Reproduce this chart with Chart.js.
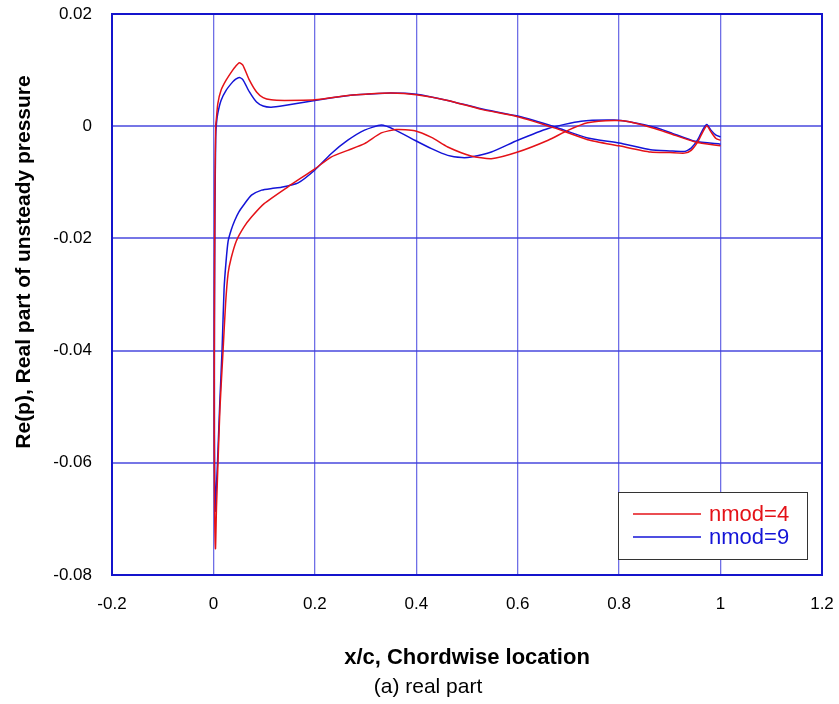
<!DOCTYPE html>
<html>
<head>
<meta charset="utf-8">
<script src="https://cdn.jsdelivr.net/npm/chart.js@4.4.1/dist/chart.umd.min.js"></script>
<style>
  html, body { margin: 0; padding: 0; background: #fff; }
  #wrap { width: 839px; height: 704px; }
</style>
</head>
<body>
<div id="wrap"><canvas id="myChart" width="839" height="704"></canvas></div>
<script>
// series labels
const seriesNames = ['nmod=4', 'nmod=9'];

// nmod=4 : upper surface from trailing edge to leading edge, then lower surface back
const nmod4X = [1.0, 0.991, 0.981, 0.973, 0.965, 0.955, 0.942, 0.929, 0.9, 0.862, 0.8, 0.738, 0.672, 0.6, 0.528,
  0.462, 0.4, 0.35, 0.3, 0.27, 0.2, 0.14, 0.114, 0.098, 0.085, 0.071, 0.058, 0.051, 0.044, 0.038, 0.025, 0.015,
  0.0086, 0.006, 0.0045, 0.003, 0.002, 0.0015, 0.002, 0.004,
  0.006, 0.009, 0.013, 0.019, 0.024, 0.029, 0.035, 0.045, 0.06, 0.075, 0.1, 0.147, 0.2, 0.232, 0.265, 0.298,
  0.331, 0.36, 0.397, 0.43, 0.462, 0.508, 0.548, 0.6, 0.66, 0.7, 0.738, 0.79, 0.82, 0.87, 0.9, 0.95, 1.0];
const nmod4Y = [-0.0025, -0.0022, -0.001, 0.0001, -0.001, -0.0028, -0.0043, -0.0048, -0.0047, -0.0046, -0.0035,
  -0.0024, -0.0003, 0.0017, 0.003, 0.0046, 0.0056, 0.0059, 0.0057, 0.0055, 0.0047, 0.0046, 0.0047, 0.0051,
  0.0061, 0.0082, 0.0109, 0.0113, 0.0107, 0.0100, 0.0082, 0.0064, 0.004, 0.0015, 0.0, -0.01, -0.03, -0.05,
  -0.065, -0.0753,
  -0.068, -0.06, -0.05, -0.04, -0.0316, -0.0262, -0.0235, -0.0205, -0.018, -0.0162, -0.0138, -0.0108, -0.0076,
  -0.0055, -0.0043, -0.0031, -0.0012, -0.0006, -0.0008, -0.002, -0.0037, -0.0053, -0.0058, -0.0046, -0.0025,
  -0.0007, 0.0006, 0.001, 0.0008, -0.0004, -0.0013, -0.0028, -0.0035];

// nmod=9
const nmod9X = [1.0, 0.991, 0.981, 0.973, 0.965, 0.955, 0.942, 0.929, 0.9, 0.862, 0.8, 0.738, 0.672, 0.6, 0.528,
  0.462, 0.4, 0.35, 0.3, 0.27, 0.2, 0.14, 0.114, 0.098, 0.085, 0.071, 0.058, 0.051, 0.044, 0.038, 0.025, 0.015,
  0.0086, 0.006, 0.0045, 0.003, 0.002, 0.002, 0.0035,
  0.006, 0.008, 0.0125, 0.017, 0.021, 0.025, 0.029, 0.035, 0.042, 0.05, 0.06, 0.075, 0.095, 0.115, 0.134, 0.167,
  0.2, 0.232, 0.265, 0.298, 0.331, 0.357, 0.397, 0.43, 0.462, 0.49, 0.508, 0.548, 0.6, 0.66, 0.725, 0.79, 0.82,
  0.87, 0.9, 0.95, 1.0];
const nmod9Y = [-0.0019, -0.0016, -0.0007, 0.0003, -0.0006, -0.0024, -0.0039, -0.0045, -0.0044, -0.0042, -0.003,
  -0.0021, -0.0001, 0.0018, 0.0031, 0.0046, 0.0057, 0.0059, 0.0057, 0.0055, 0.0046, 0.0037, 0.0034, 0.0036,
  0.0043, 0.0061, 0.0083, 0.0087, 0.0084, 0.0079, 0.0064, 0.0046, 0.0023, 0.0005, -0.002, -0.015, -0.035,
  -0.055, -0.0686,
  -0.064, -0.06, -0.0494, -0.04, -0.029, -0.024, -0.0205, -0.0185, -0.0168, -0.0153, -0.014, -0.0123, -0.0114,
  -0.0111, -0.0109, -0.0101, -0.0078, -0.0049, -0.0025, -0.0007, 0.0002, -0.0006, -0.0025, -0.004, -0.0052,
  -0.0056, -0.0055, -0.0046, -0.0025, -0.0004, 0.0009, 0.0011, 0.0008, -0.0002, -0.0011, -0.0027, -0.0032];

// tick values and labels
const xTicks = [-0.2, 0, 0.2, 0.4, 0.6, 0.8, 1, 1.2];
const xTickLabels = ['-0.2', '0', '0.2', '0.4', '0.6', '0.8', '1', '1.2'];
const yTicks = [0.02, 0, -0.02, -0.04, -0.06, -0.08];
const yTickLabels = ['0.02', '0', '-0.02', '-0.04', '-0.06', '-0.08'];

const xTitle = 'x/c, Chordwise location';
const yTitle = 'Re(p), Real part of unsteady pressure';
const caption = '(a) real part';

function toPoints(xs, ys) {
    return xs.map((x, i) => ({ x: x, y: ys[i] }));
}

function labelFor(ticks, labels, value) {
    const i = ticks.findIndex(t => Math.abs(t - value) < 1e-9);
    return i >= 0 ? labels[i] : '';
}

// frame round the plot area, drawn before the curves
const framePlugin = {
    id: 'frame',
    beforeDatasetsDraw(chart) {
        const a = chart.chartArea;
        const ctx = chart.ctx;
        ctx.save();
        ctx.strokeStyle = '#1414cc';
        ctx.lineWidth = 2;
        ctx.strokeRect(a.left, a.top, a.right - a.left, a.bottom - a.top);
        ctx.restore();
    }
};

// axis titles, caption and the boxed legend
const extrasPlugin = {
    id: 'extras',
    afterDraw(chart) {
        const ctx = chart.ctx;
        ctx.save();
        ctx.fillStyle = '#000';
        ctx.textAlign = 'center';
        ctx.textBaseline = 'middle';

        ctx.font = 'bold 22px "Liberation Sans", Arial, sans-serif';
        ctx.fillText(xTitle, 467, 658);

        ctx.font = '21px "Liberation Sans", Arial, sans-serif';
        ctx.fillText(caption, 428, 687);

        ctx.save();
        ctx.translate(24, 262);
        ctx.rotate(-Math.PI / 2);
        ctx.font = 'bold 21px "Liberation Sans", Arial, sans-serif';
        ctx.fillText(yTitle, 0, 0);
        ctx.restore();

        // legend box
        const bx = 618, by = 492, bw = 189, bh = 67;
        ctx.fillStyle = '#fff';
        ctx.fillRect(bx, by, bw, bh);
        ctx.strokeStyle = '#333';
        ctx.lineWidth = 1;
        ctx.strokeRect(bx + 0.5, by + 0.5, bw, bh);
        ctx.font = '22px "Liberation Sans", Arial, sans-serif';
        ctx.textAlign = 'left';
        chart.data.datasets.forEach((ds, i) => {
            const yy = 514 + i * 23;
            ctx.strokeStyle = ds.borderColor;
            ctx.lineWidth = 1.3;
            ctx.beginPath();
            ctx.moveTo(633, yy);
            ctx.lineTo(701, yy);
            ctx.stroke();
            ctx.fillStyle = ds.borderColor;
            ctx.fillText(ds.label, 709, yy + 1);
        });
        ctx.restore();
    }
};

const ctx = document.getElementById('myChart').getContext('2d');
new Chart(ctx, {
    type: 'scatter',
    data: {
        datasets: [{
            label: seriesNames[0],
            data: toPoints(nmod4X, nmod4Y),
            borderColor: 'rgb(228, 18, 24)',
            backgroundColor: 'rgb(228, 18, 24)',
            showLine: true,
            pointRadius: 0,
            borderWidth: 1.5,
            tension: 0.2
        }, {
            label: seriesNames[1],
            data: toPoints(nmod9X, nmod9Y),
            borderColor: 'rgb(20, 20, 215)',
            backgroundColor: 'rgb(20, 20, 215)',
            showLine: true,
            pointRadius: 0,
            borderWidth: 1.5,
            tension: 0.2
        }]
    },
    options: {
        responsive: false,
        animation: false,
        layout: {
            padding: { left: 0, right: 17, top: 14, bottom: 0 }
        },
        plugins: {
            legend: { display: false },
            tooltip: { enabled: false }
        },
        scales: {
            x: {
                type: 'linear',
                min: -0.2,
                max: 1.2,
                afterBuildTicks: scale => { scale.ticks = xTicks.map(v => ({ value: v })); },
                afterFit: scale => {
                    scale.height = 129;
                    scale.paddingLeft = 0;
                    scale.paddingRight = 0;
                },
                ticks: {
                    color: '#000',
                    padding: 19,
                    maxRotation: 0,
                    font: { family: '"Liberation Sans", Arial, sans-serif', size: 17 },
                    callback: value => labelFor(xTicks, xTickLabels, value)
                },
                grid: {
                    color: 'rgba(50, 50, 220, 0.7)',
                    lineWidth: 1.3,
                    drawTicks: false
                },
                border: { color: '#1414cc', width: 2 }
            },
            y: {
                type: 'linear',
                min: -0.08,
                max: 0.02,
                afterBuildTicks: scale => { scale.ticks = yTicks.map(v => ({ value: v })); },
                afterFit: scale => {
                    scale.width = 112;
                    scale.paddingTop = 0;
                    scale.paddingBottom = 0;
                },
                ticks: {
                    color: '#000',
                    padding: 20,
                    font: { family: '"Liberation Sans", Arial, sans-serif', size: 17 },
                    callback: value => labelFor(yTicks, yTickLabels, value)
                },
                grid: {
                    color: 'rgba(60, 60, 220, 0.7)',
                    lineWidth: 2,
                    drawTicks: false
                },
                border: { color: '#1414cc', width: 2 }
            }
        }
    },
    plugins: [framePlugin, extrasPlugin]
});
</script>
</body>
</html>
